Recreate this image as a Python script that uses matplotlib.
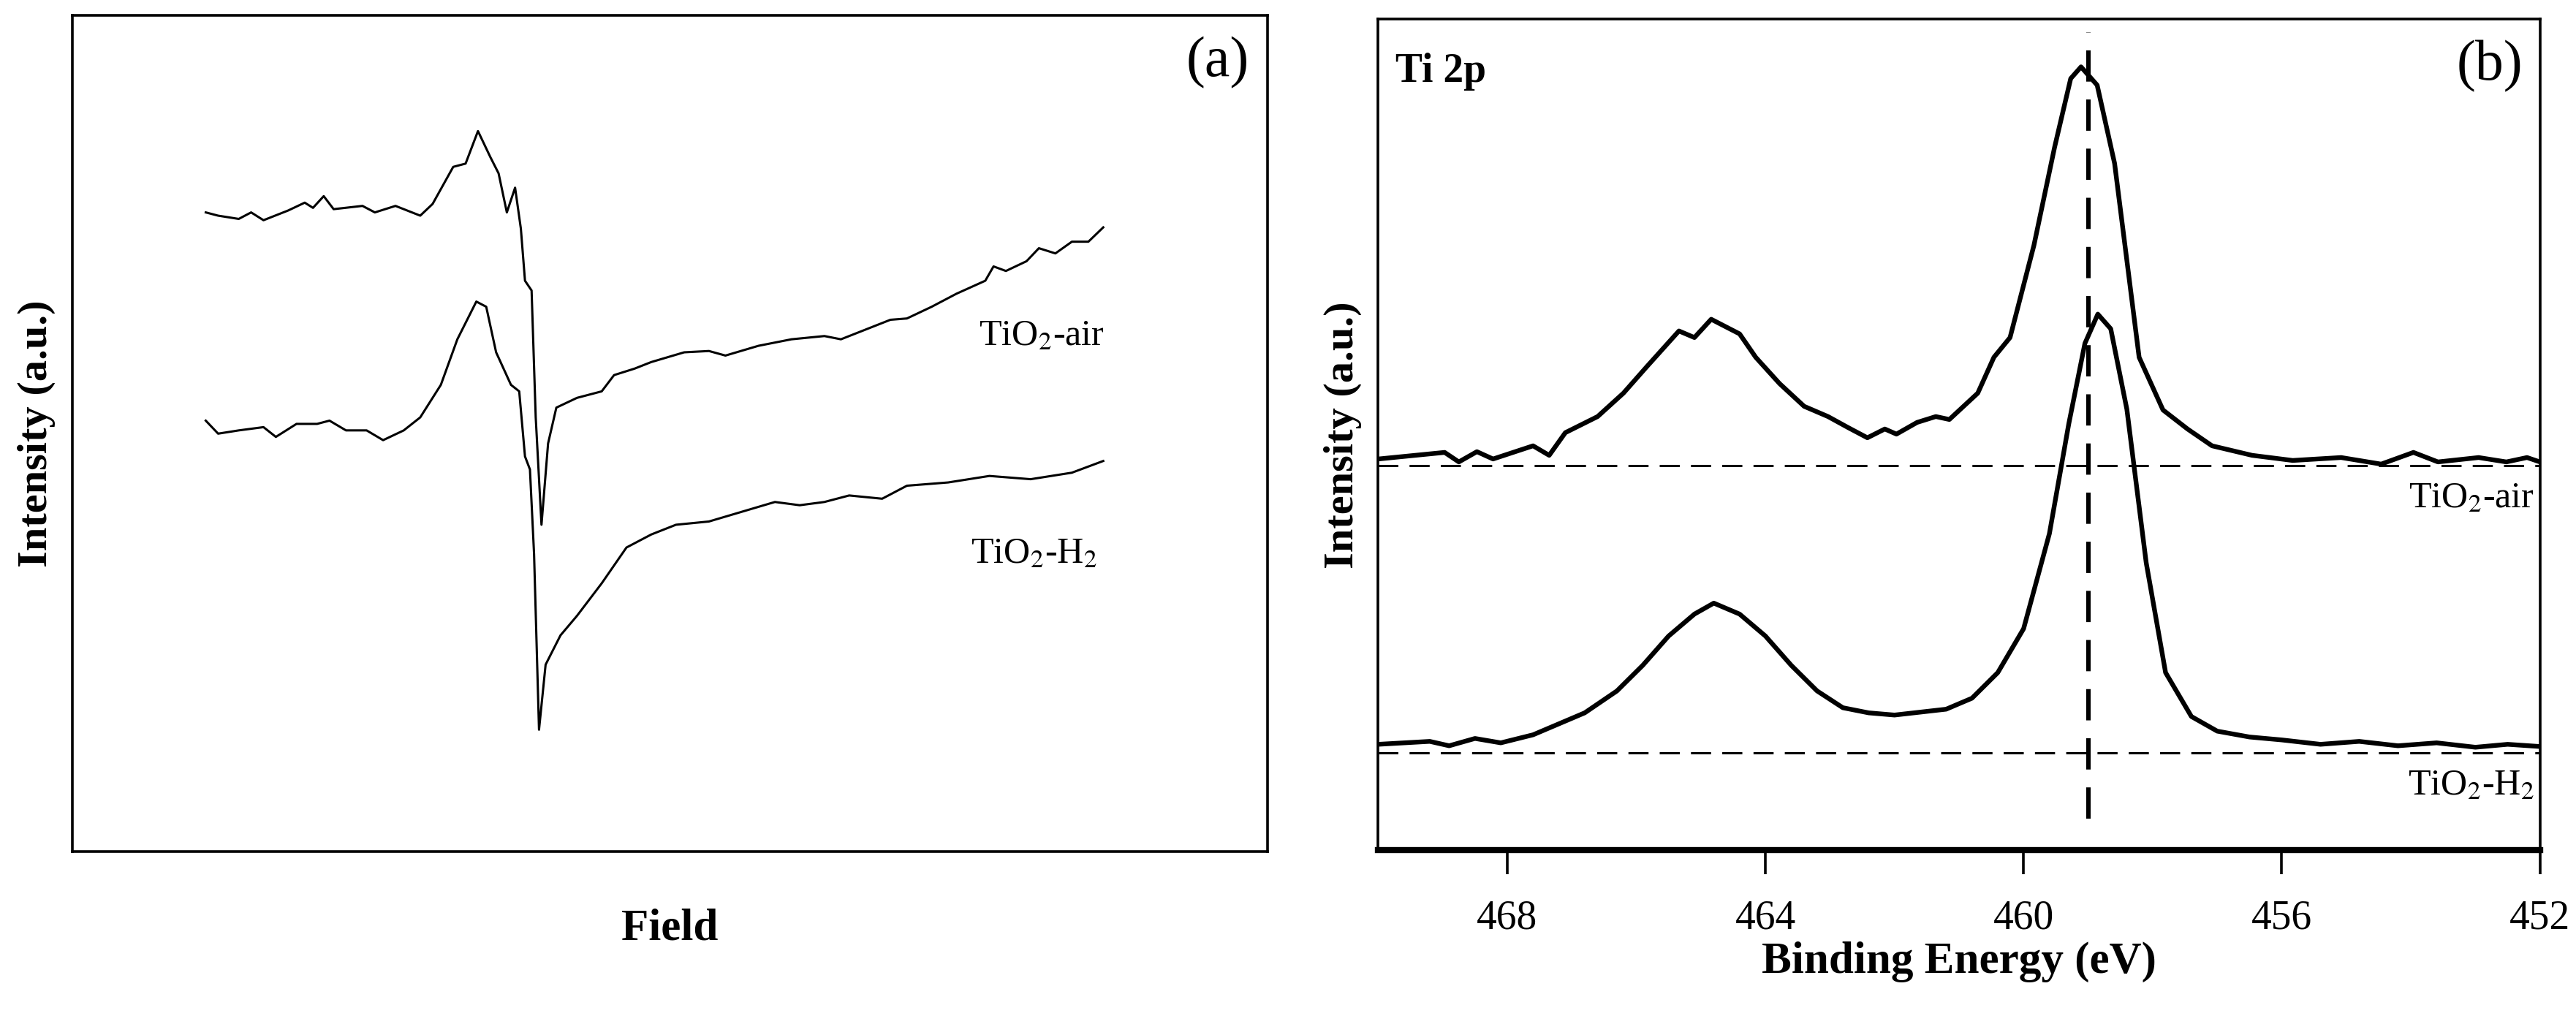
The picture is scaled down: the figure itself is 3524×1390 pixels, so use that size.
import matplotlib.pyplot as plt

plt.rcParams['font.family'] = ['Liberation Serif', 'DejaVu Serif']
plt.rcParams['mathtext.fontset'] = 'stix'

# ---- (a) EPR spectra (field in arbitrary units, signal read as depth from the top, arbitrary) ----
epr_air_field = [250, 265, 290, 305, 320, 350, 370, 380, 393, 405, 440, 455, 480, 510, 525, 550, 565, 580,
                 595, 605, 615, 625, 632, 637, 645, 650, 657, 665, 675, 700, 730, 745, 770, 790, 830, 860,
                 880, 920, 960, 1000, 1020, 1050, 1080, 1100, 1130, 1160, 1195, 1205, 1220, 1245, 1260,
                 1280, 1300, 1320, 1338]
epr_air_int = [325, 330, 335, 325, 337, 322, 310, 318, 300, 320, 315, 325, 315, 330, 312, 255, 250, 200,
               240, 265, 325, 287, 350, 430, 445, 640, 805, 680, 625, 610, 600, 575, 565, 555, 540, 538,
               545, 530, 520, 515, 520, 505, 490, 488, 470, 450, 430, 408, 415, 400, 380,
               388, 370, 370, 348]
epr_h2_field = [250, 265, 290, 320, 335, 360, 385, 400, 420, 445, 465, 490, 510, 535, 555, 578, 590, 602,
                620, 630, 637, 643, 648, 654, 662, 680, 700, 730, 760, 790, 820, 860, 900, 940, 970, 1000,
                1030, 1070, 1100, 1150, 1200, 1250, 1300, 1338]
epr_h2_int = [645, 665, 660, 655, 670, 650, 650, 645, 660, 660, 675, 660, 640, 590, 520, 462, 470, 540,
              590, 600, 700, 720, 850, 1120, 1020, 975, 945, 895, 840, 820, 805, 800, 785, 770, 775, 770,
              760, 765, 745, 740, 730, 735, 725, 707]

# ---- (b) XPS Ti 2p (binding energy eV, intensity above each baseline) ----
xps_air_be = [470, 468.97, 468.75, 468.47, 468.22, 467.6, 467.35, 467.1, 466.6, 466.2, 465.84, 465.34,
              465.1, 464.84, 464.4, 464.15, 463.78, 463.4, 463.03, 462.72, 462.42, 462.15, 461.97, 461.65,
              461.36, 461.15, 460.71, 460.46, 460.21, 459.84, 459.52, 459.27, 459.11, 458.86, 458.59,
              458.21, 457.84, 457.46, 457.08, 456.46, 455.83, 455.08, 454.46, 453.96, 453.58, 452.95,
              452.52, 452.2, 452]
xps_air_int = [9, 18, 5, 19, 9, 27, 14, 45, 67, 99, 135, 184,
               175, 200, 180, 148, 112, 81, 67, 52, 38, 50, 43, 59,
               67, 63, 99, 148, 175, 301, 435, 529, 545, 520, 413,
               148, 76, 50, 27, 14, 7, 11, 2, 18, 5, 11,
               5, 11, 5]
xps_h2_be = [470, 469.2, 468.9, 468.5, 468.1, 467.6, 467.2, 466.8, 466.3, 465.9, 465.5, 465.1, 464.8,
             464.4, 464.0, 463.6, 463.2, 462.8, 462.4, 462.0, 461.6, 461.2, 460.8, 460.4, 460.0, 459.6,
             459.3, 459.05, 458.85, 458.65, 458.4, 458.1, 457.8, 457.4, 457.0, 456.5, 456.0, 455.4,
             454.8, 454.2, 453.6, 453.0, 452.5, 452]
xps_h2_int = [12, 16, 10, 20, 14, 25, 40, 55, 85, 120, 160, 190, 205,
              190, 160, 120, 85, 62, 55, 52, 56, 60, 75, 110, 170, 300,
              450, 560, 600, 580, 470, 260, 110, 50, 30, 22, 18, 12,
              16, 10, 14, 8, 12, 9]
xps_offsets = [526, 133]
peak_line_be = 459.0

fig = plt.figure(figsize=(17.62, 6.95), dpi=200)
ax1 = fig.add_axes([0.028, 0.162, 0.464, 0.823])
ax2 = fig.add_axes([0.535, 0.163, 0.451, 0.818])

# panel (a)
ax1.plot(epr_air_field, epr_air_int, color='black', lw=1.1)
ax1.plot(epr_h2_field, epr_h2_int, color='black', lw=1.1)
ax1.set_xlim(88, 1537)
ax1.set_ylim(1307, 22)
ax1.set_xticks([])
ax1.set_yticks([])
ax1.set_xlabel('Field', fontsize=22, fontweight='bold', labelpad=28)
ax1.set_ylabel('Intensity (a.u.)', fontsize=21, fontweight='bold', labelpad=8)
ax1.text(1187, 515, 'TiO$_2$-air', fontsize=18, va='center')
ax1.text(1177, 850, 'TiO$_2$-H$_2$', fontsize=18, va='center')
ax1.text(0.985, 0.975, '(a)', transform=ax1.transAxes, ha='right', va='top', fontsize=28)
for s in ax1.spines.values():
    s.set_linewidth(1.3)

# panel (b)
air_y = [v + xps_offsets[0] for v in xps_air_int]
h2_y = [v + xps_offsets[1] for v in xps_h2_int]
ax2.plot(xps_air_be, air_y, color='black', lw=2.3)
ax2.plot(xps_h2_be, h2_y, color='black', lw=2.3)
for off in xps_offsets:
    ax2.axhline(off, color='black', lw=1.1, ls=(0, (9, 5)))
ax2.plot([peak_line_be, peak_line_be], [43, 1118], color='black', lw=2.2, ls=(0, (7, 4)))
ax2.set_xlim(470, 452)
ax2.set_ylim(0, 1136)
ax2.set_xticks([468, 464, 460, 456, 452])
ax2.set_yticks([])
ax2.tick_params(axis='x', direction='out', length=12, width=1.3, labelsize=20, pad=12)
ax2.set_xlabel('Binding Energy (eV)', fontsize=22, fontweight='bold', labelpad=2)
ax2.set_ylabel('Intensity (a.u.)', fontsize=21, fontweight='bold', labelpad=8)
ax2.text(0.015, 0.96, 'Ti 2p', transform=ax2.transAxes, ha='left', va='top', fontsize=20, fontweight='bold')
ax2.text(0.985, 0.975, '(b)', transform=ax2.transAxes, ha='right', va='top', fontsize=28)
ax2.text(0.995, xps_offsets[0] - 22, 'TiO$_2$-air', transform=ax2.get_yaxis_transform(),
         ha='right', va='top', fontsize=18)
ax2.text(0.995, xps_offsets[1] - 22, 'TiO$_2$-H$_2$', transform=ax2.get_yaxis_transform(),
         ha='right', va='top', fontsize=18)
for s in ax2.spines.values():
    s.set_linewidth(1.3)
ax2.spines['bottom'].set_linewidth(3)

fig.savefig('out.png', dpi=200)
